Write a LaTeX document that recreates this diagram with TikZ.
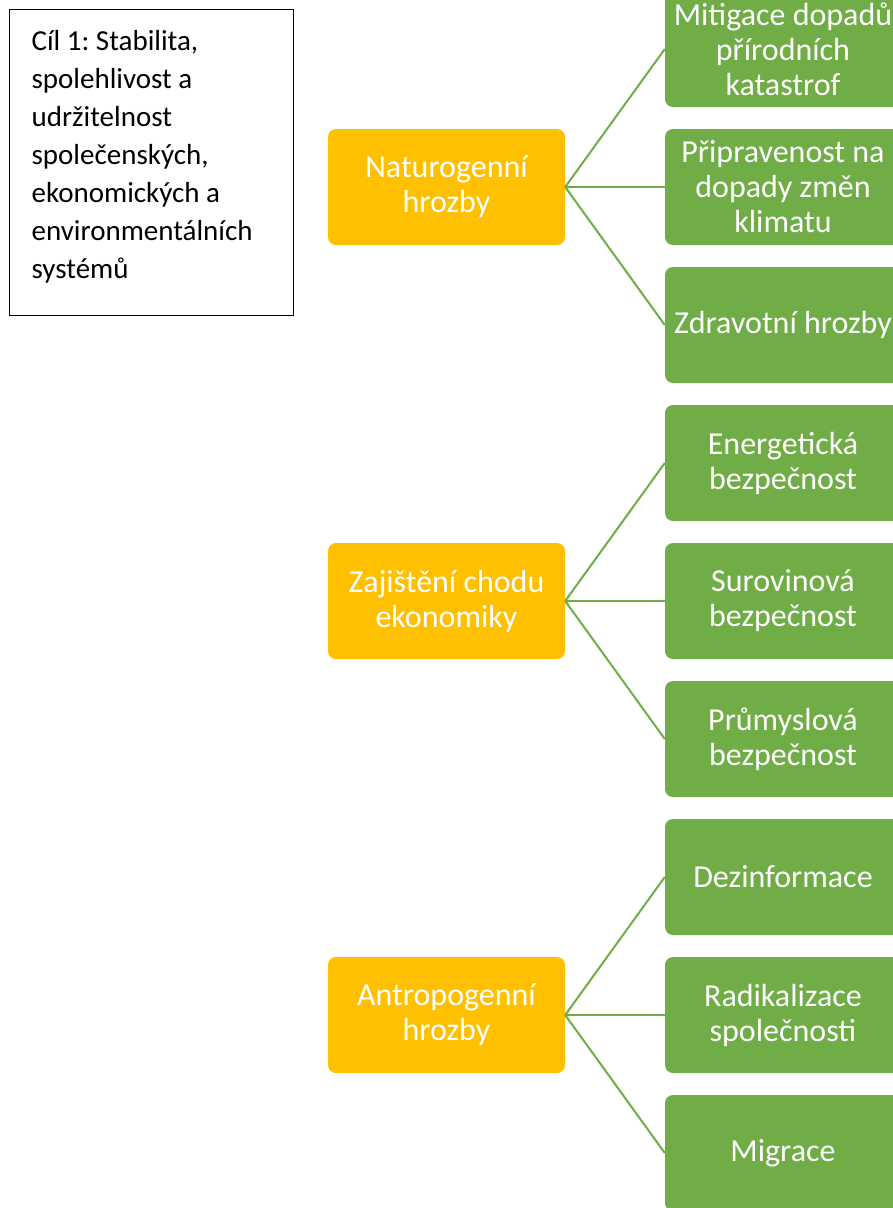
\documentclass[tikz,border=0pt]{standalone}
\usepackage{fontspec}
\setmainfont{Carlito}
\frenchspacing
\definecolor{hrozba}{HTML}{FFC000}
\definecolor{oblast}{HTML}{70AD47}

\begin{document}
\begin{tikzpicture}[x=1pt, y=-1pt]
% define node styles
\tikzstyle{every node} = [align=center, text=white, inner sep=0pt, font=\fontsize{32}{35}\selectfont]
\tikzstyle{group}      = [rectangle, rounded corners=8pt, fill=hrozba, minimum width=237pt, minimum height=116pt]
\tikzstyle{leaf}       = [rectangle, rounded corners=8pt, fill=oblast, minimum width=236pt, minimum height=116pt]
\tikzstyle{link}       = [draw=oblast, line width=2pt]

\useasboundingbox (0,0) rectangle (893,1208);
\clip (0,0) rectangle (893,1208);

% goal box
\node [draw=black, line width=1.3pt, text=black, align=flush left, anchor=north west,
       minimum width=284pt, minimum height=306pt, text width=240pt, inner xsep=22pt,
       font=\fontsize{29}{38}\selectfont] (goal) at (9,9)
  {Cíl 1: Stabilita,\\spolehlivost a\\udržitelnost\\společenských,\\ekonomických a\\environmentálních\\systémů\\[-22pt]\mbox{}};

% threat groups
\foreach \n/\y/\t in {1/187/{Naturogenní\\hrozby}, 2/601/{Zajištění chodu\\ekonomiky}, 3/1015/{Antropogenní\\hrozby}}
    \node [group] (g\n) at (446.5,\y) {\t};

% areas and links
\foreach \n/\y/\up/\t in {1/49/1/{Mitigace dopadů\\přírodních\\katastrof},
                          2/187/1/{Připravenost na\\dopady změn\\klimatu},
                          3/325/1/{Zdravotní hrozby},
                          4/463/2/{Energetická\\bezpečnost},
                          5/601/2/{Surovinová\\bezpečnost},
                          6/739/2/{Průmyslová\\bezpečnost},
                          7/877/3/{Dezinformace},
                          8/1015/3/{Radikalizace\\společnosti},
                          9/1153/3/{Migrace}}
{
    \node [leaf] (l\n) at (783,\y) {\t};
    \draw [link] (g\up.east) -- (l\n.west);
}

\end{tikzpicture}
\end{document}
